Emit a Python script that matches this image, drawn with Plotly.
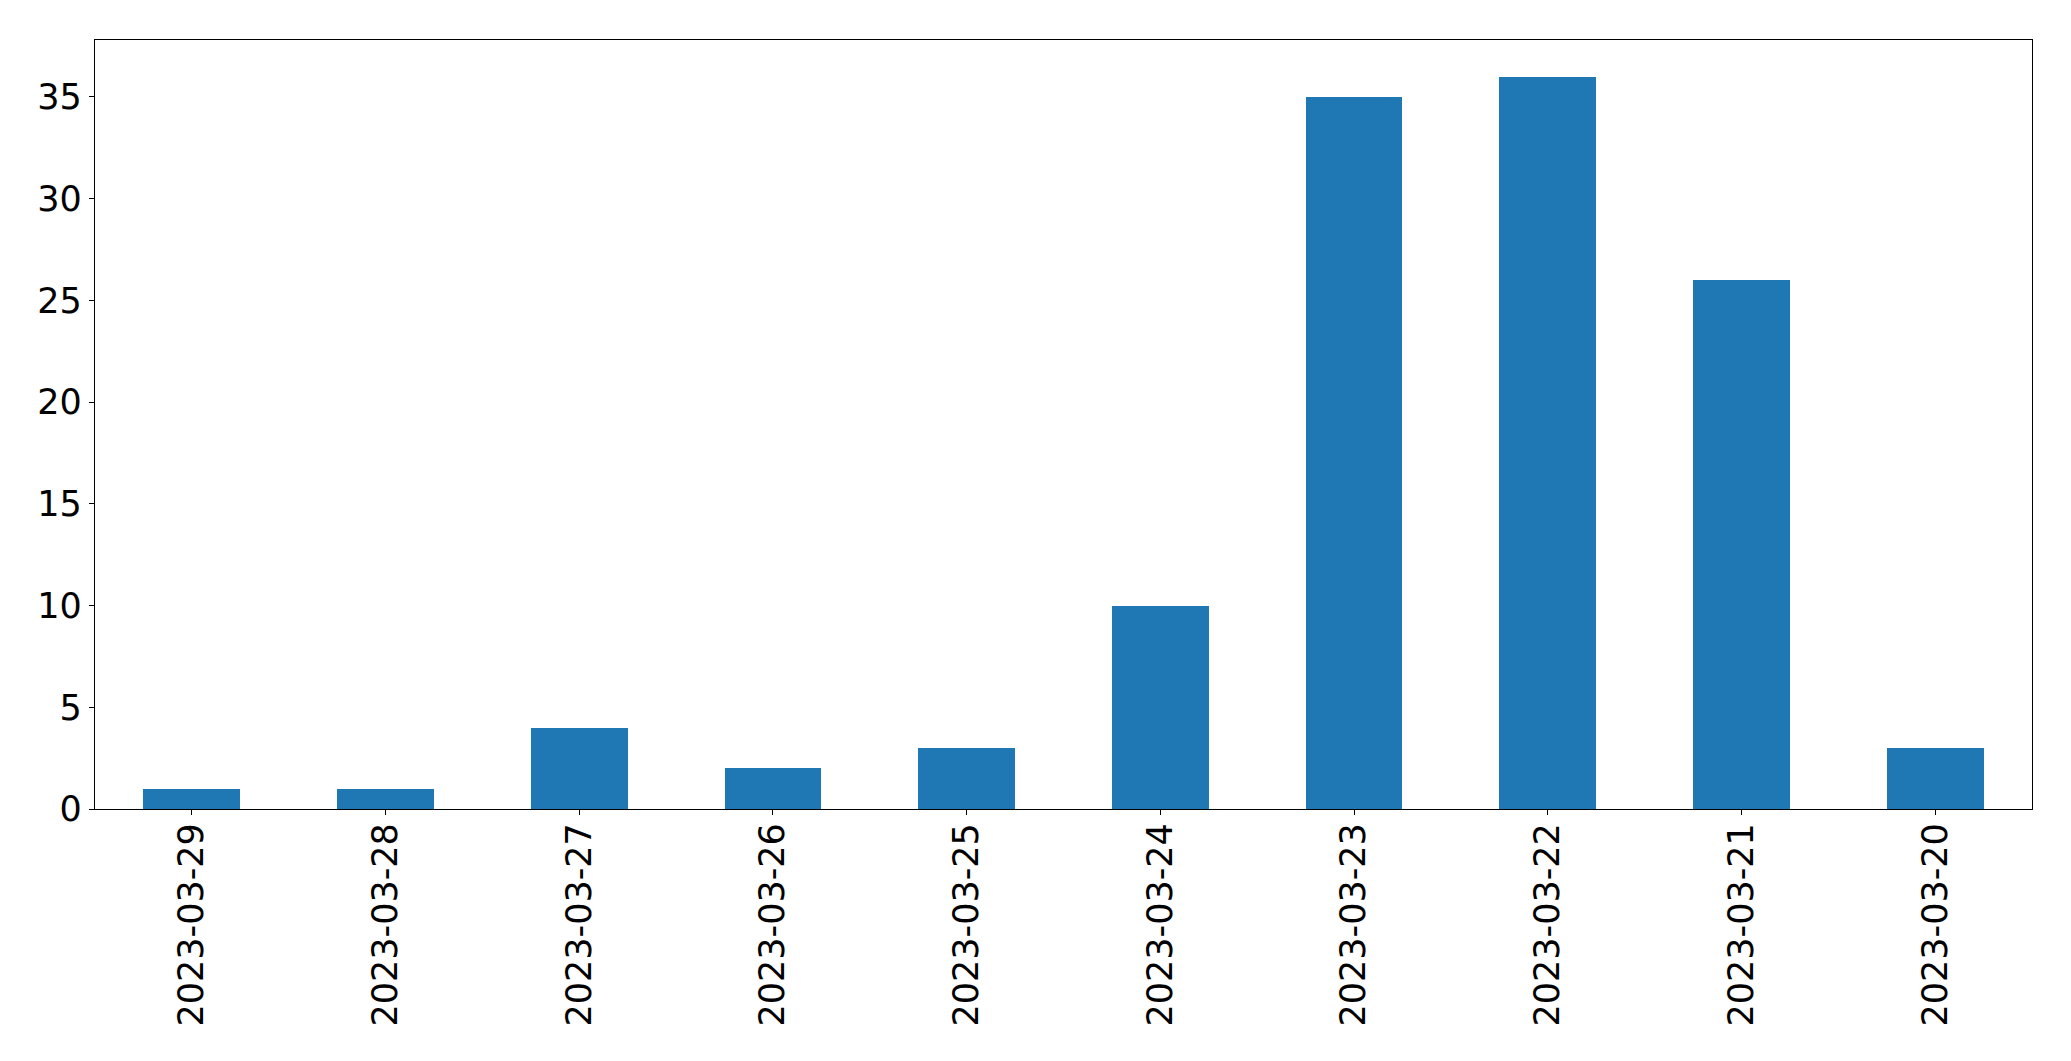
import plotly.graph_objects as go

dates = ["2023-03-29", "2023-03-28", "2023-03-27", "2023-03-26", "2023-03-25",
         "2023-03-24", "2023-03-23", "2023-03-22", "2023-03-21", "2023-03-20"]
counts = [1, 1, 4, 2, 3, 10, 35, 36, 26, 3]
y_ticks = [0, 5, 10, 15, 20, 25, 30, 35]

fig = go.Figure()
fig.add_trace(go.Bar(x=dates, y=counts, width=0.5, marker_color="#1f77b4",
                     marker_line_width=0))

axis_common = dict(showline=True, linecolor="black", linewidth=1.3, mirror=True,
                   ticks="outside", ticklen=5, tickwidth=1.3, tickcolor="black",
                   showgrid=False, zeroline=False,
                   tickfont=dict(family="DejaVu Sans", size=35, color="black"))

fig.update_layout(
    width=2063, height=1053,
    margin=dict(l=86.5, r=39.3, t=31.5, b=252, pad=0),
    plot_bgcolor="white", paper_bgcolor="white",
    showlegend=False, bargap=0,
    xaxis=dict(type="category", range=[-0.5, 9.5], tickangle=-90,
               ticklabelstandoff=-6, **axis_common),
    yaxis=dict(range=[0, 37.8], tickvals=y_ticks, **axis_common),
)

fig.write_html("out.html")
